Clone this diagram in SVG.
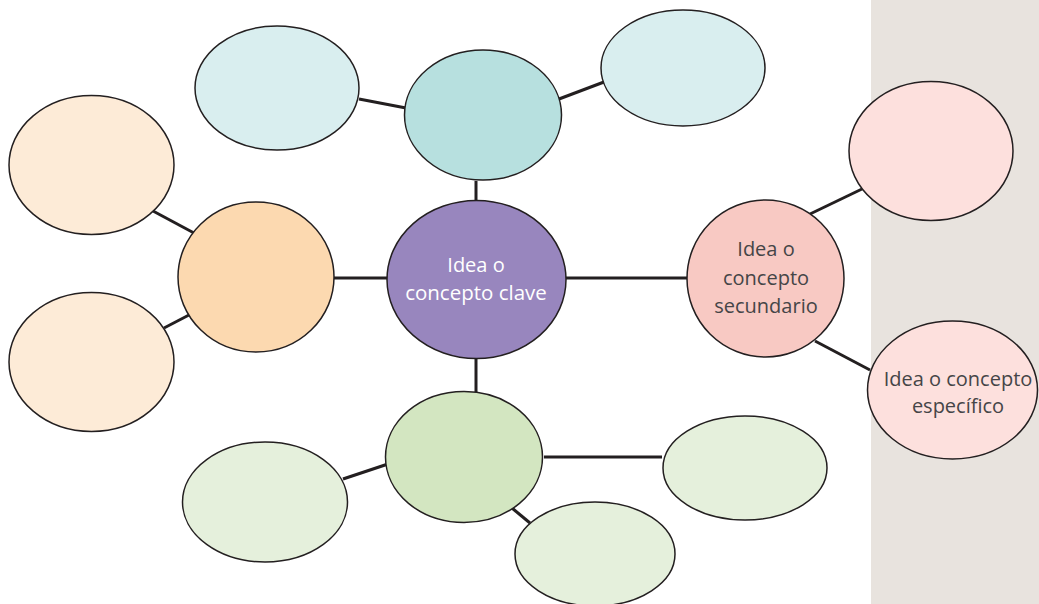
<svg xmlns="http://www.w3.org/2000/svg" width="1039" height="604" viewBox="0 0 1039 604">
<style>
.n{stroke:#231f20;stroke-width:1.5}
.c line{stroke:#231f20;stroke-width:3}
text{font-family:"Open Sans","Noto Sans","Liberation Sans",sans-serif;font-size:20px;text-anchor:middle}
.w{fill:#ffffff}
.g{fill:#454547}
</style>
<rect x="0" y="0" width="1039" height="604" fill="#ffffff"/>
<rect x="871" y="0" width="168" height="604" fill="#e8e3de"/>
<g class="c" id="connectors">
<line x1="476" y1="181" x2="476" y2="201"/>
<line x1="359" y1="99" x2="406" y2="108"/>
<line x1="559" y1="99" x2="604" y2="82"/>
<line x1="334" y1="278" x2="388" y2="278"/>
<line x1="565" y1="278" x2="688" y2="278"/>
<line x1="476" y1="358" x2="476" y2="393"/>
<line x1="153" y1="211" x2="194" y2="233"/>
<line x1="164" y1="328" x2="189" y2="315"/>
<line x1="810" y1="214" x2="862" y2="189"/>
<line x1="815" y1="341" x2="870" y2="370"/>
<line x1="343" y1="479" x2="388" y2="464"/>
<line x1="544" y1="457" x2="662" y2="457"/>
<line x1="512" y1="508" x2="530" y2="523"/>
</g>
<g id="n-top-left"><ellipse class="n" cx="277" cy="88" rx="82" ry="62" fill="#d9eeef"/></g>
<g id="n-top"><ellipse class="n" cx="483" cy="115" rx="78.5" ry="65" fill="#b7e0df"/></g>
<g id="n-top-right"><ellipse class="n" cx="683" cy="68" rx="82" ry="58" fill="#d9eeef"/></g>
<g id="n-left-top"><ellipse class="n" cx="91.5" cy="165" rx="82.5" ry="69.5" fill="#fdebd7"/></g>
<g id="n-left"><ellipse class="n" cx="256" cy="277" rx="78" ry="75" fill="#fcd9b0"/></g>
<g id="n-left-bottom"><ellipse class="n" cx="91.5" cy="362" rx="82.5" ry="69.5" fill="#fdebd7"/></g>
<g id="n-center"><ellipse class="n" cx="476.5" cy="279.5" rx="89.5" ry="79" fill="#9886be"/>
<text class="w" x="476" y="272">Idea o</text><text class="w" x="476" y="300" style="font-size:20.5px">concepto clave</text></g>
<g id="n-secondary"><ellipse class="n" cx="765.5" cy="278.5" rx="78.5" ry="78.5" fill="#f8c9c3"/>
<text class="g" x="766" y="256">Idea o</text><text class="g" x="766" y="285">concepto</text><text class="g" x="766" y="313">secundario</text></g>
<g id="n-right-top"><ellipse class="n" cx="931" cy="151" rx="82" ry="69.5" fill="#fde0dd"/></g>
<g id="n-right-bottom"><ellipse class="n" cx="952.5" cy="390" rx="85" ry="69" fill="#fde0dd"/>
<text class="g" x="958" y="386">Idea o concepto</text><text class="g" x="958" y="413">específico</text></g>
<g id="n-bottom"><ellipse class="n" cx="464" cy="457" rx="78.5" ry="65.5" fill="#d3e6c1"/></g>
<g id="n-bottom-left"><ellipse class="n" cx="265" cy="502" rx="82.5" ry="60" fill="#e5f0dc"/></g>
<g id="n-bottom-right"><ellipse class="n" cx="745" cy="468" rx="82" ry="52" fill="#e5f0dc"/></g>
<g id="n-bottom-mid"><ellipse class="n" cx="595" cy="554" rx="80" ry="52" fill="#e5f0dc"/></g>
</svg>
